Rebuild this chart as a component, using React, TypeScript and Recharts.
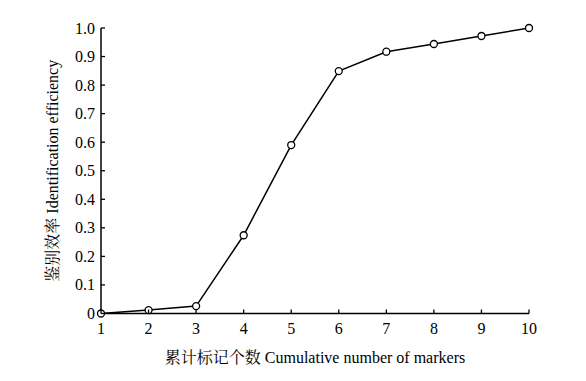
import React from 'react';
import { LineChart, Line, XAxis, YAxis, Label } from 'recharts';

const markers = [1, 2, 3, 4, 5, 6, 7, 8, 9, 10];
const efficiency = [0, 0.012, 0.026, 0.274, 0.59, 0.849, 0.917, 0.944, 0.972, 1.0];
const xTicks = [1, 2, 3, 4, 5, 6, 7, 8, 9, 10];
const yTicks = [0, 0.1, 0.2, 0.3, 0.4, 0.5, 0.6, 0.7, 0.8, 0.9, 1.0];
const xTitle = '累计标记个数 Cumulative number of markers';
const yTitle = '鉴别效率 Identification efficiency';

const data = markers.map((m, i) => ({ m, v: efficiency[i] }));

const FONT = "'Liberation Serif', 'Noto Serif CJK SC', serif";

const XTick = (props: any) => {
  const { x, y, payload } = props;
  return (
    <g>
      <line x1={x} x2={x} y1={y} y2={y - 4} stroke="#000" strokeWidth={1.3} />
      <text x={x} y={y + 20} textAnchor="middle" style={{ fontSize: 16, fontFamily: FONT }} fill="#000">
        {payload.value}
      </text>
    </g>
  );
};

const YTick = (props: any) => {
  const { x, y, payload } = props;
  const v = payload.value;
  const label = v === 0 ? '0' : v.toFixed(1);
  return (
    <g>
      <line x1={x} x2={x + 4} y1={y} y2={y} stroke="#000" strokeWidth={1.3} />
      <text x={x - 6} y={y + 5.5} textAnchor="end" style={{ fontSize: 16, fontFamily: FONT }} fill="#000">
        {label}
      </text>
    </g>
  );
};

export default function App() {
  return (
    <div style={{ position: 'absolute', left: 0, top: 0, width: 586, height: 381, background: '#fff' }}>
      <LineChart
        width={586}
        height={381}
        data={data}
        margin={{ top: 28, right: 57, left: 0, bottom: 0 }}
      >
        <XAxis
          dataKey="m"
          type="number"
          domain={[1, 10]}
          ticks={xTicks}
          interval={0}
          height={67.5}
          tickSize={0}
          tickMargin={0}
          tick={<XTick />}
          axisLine={{ stroke: '#000', strokeWidth: 1.5 }}
          tickLine={false}
        >
          <Label
            value={xTitle}
            position="insideBottom"
            offset={18}
            style={{ fontSize: 16, fontFamily: FONT, fill: '#000' }}
          />
        </XAxis>
        <YAxis
          type="number"
          domain={[0, 1]}
          ticks={yTicks}
          interval={0}
          width={101}
          tickSize={0}
          tickMargin={0}
          tick={<YTick />}
          axisLine={{ stroke: '#000', strokeWidth: 1.5 }}
          tickLine={false}
        >
          <Label
            value={yTitle}
            angle={-90}
            position="insideLeft"
            offset={52}
            style={{ fontSize: 16, fontFamily: FONT, fill: '#000', textAnchor: 'middle' }}
          />
        </YAxis>
        <Line
          type="linear"
          dataKey="v"
          stroke="#000"
          strokeWidth={1.5}
          isAnimationActive={false}
          dot={{ r: 3.5, fill: '#fff', stroke: '#000', strokeWidth: 1.3 }}
        />
      </LineChart>
    </div>
  );
}
